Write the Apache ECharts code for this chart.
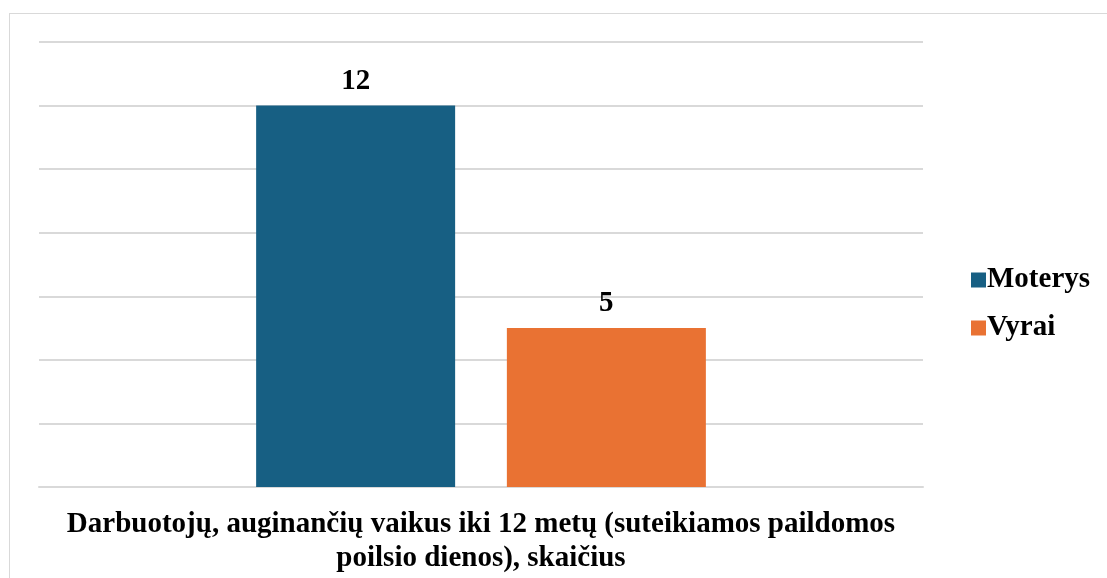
<!DOCTYPE html>
<html lang="lt">
<head>
    <meta charset="UTF-8">
    <title>Darbuotojai</title>
    <script type="text/javascript" src="https://cdn.jsdelivr.net/npm/echarts@6/dist/echarts.min.js"></script>
    <style>
        html, body { margin: 0; padding: 0; background: #fff; overflow: hidden; }
        #frame { position: absolute; left: 9px; top: 13px; width: 1200px; height: 700px; border: 1px solid #d9d9d9; }
        #chart { position: absolute; left: 0; top: 0; width: 1107px; height: 578px; }
    </style>
</head>
<body>
<div id="frame"></div>
<div id="chart"></div>
<script type="text/javascript">
    var categories = ['Darbuotojų, auginančių vaikus iki 12 metų (suteikiamos paildomos\npoilsio dienos), skaičius'];
    var seriesNames = ['Moterys', 'Vyrai'];
    var moterys = [12];
    var vyrai = [5];

    var font = 'Liberation Serif';
    var mychart = echarts.init(document.getElementById('chart'));
    var option = {
        animation: false,
        textStyle: { fontFamily: font },
        grid: { left: 39, right: 184, top: 42, bottom: 91 },
        legend: {
            orient: 'vertical',
            left: 966,
            top: 260,
            itemWidth: 15,
            itemHeight: 15,
            itemGap: 18,
            icon: 'rect',
            data: seriesNames,
            textStyle: { fontFamily: font, fontSize: 29, lineHeight: 30, fontWeight: 'bold', color: '#000', padding: [0, 0, 0, -4] }
        },
        xAxis: {
            type: 'category',
            data: categories,
            axisTick: { show: false },
            axisLine: { lineStyle: { color: '#d9d9d9', width: 2 } },
            axisLabel: {
                margin: 21,
                fontFamily: font,
                fontSize: 29,
                fontWeight: 'bold',
                color: '#000',
                lineHeight: 34,
                align: 'center'
            }
        },
        yAxis: {
            type: 'value',
            min: 0,
            max: 14,
            interval: 2,
            axisLabel: { show: false },
            axisLine: { show: false },
            axisTick: { show: false },
            splitLine: { lineStyle: { color: '#d9d9d9', width: 2 } }
        },
        series: [{
            name: seriesNames[0],
            type: 'bar',
            data: moterys,
            barWidth: 199,
            barGap: '26%',
            itemStyle: { color: '#175f83' },
            label: { show: true, position: 'top', distance: 10, fontFamily: font, fontSize: 29, fontWeight: 'bold', color: '#000' }
        }, {
            name: seriesNames[1],
            type: 'bar',
            data: vyrai,
            barWidth: 199,
            itemStyle: { color: '#e97233' },
            label: { show: true, position: 'top', distance: 10, fontFamily: font, fontSize: 29, fontWeight: 'bold', color: '#000' }
        }]
    };
    mychart.setOption(option);
</script>
</body>
</html>
